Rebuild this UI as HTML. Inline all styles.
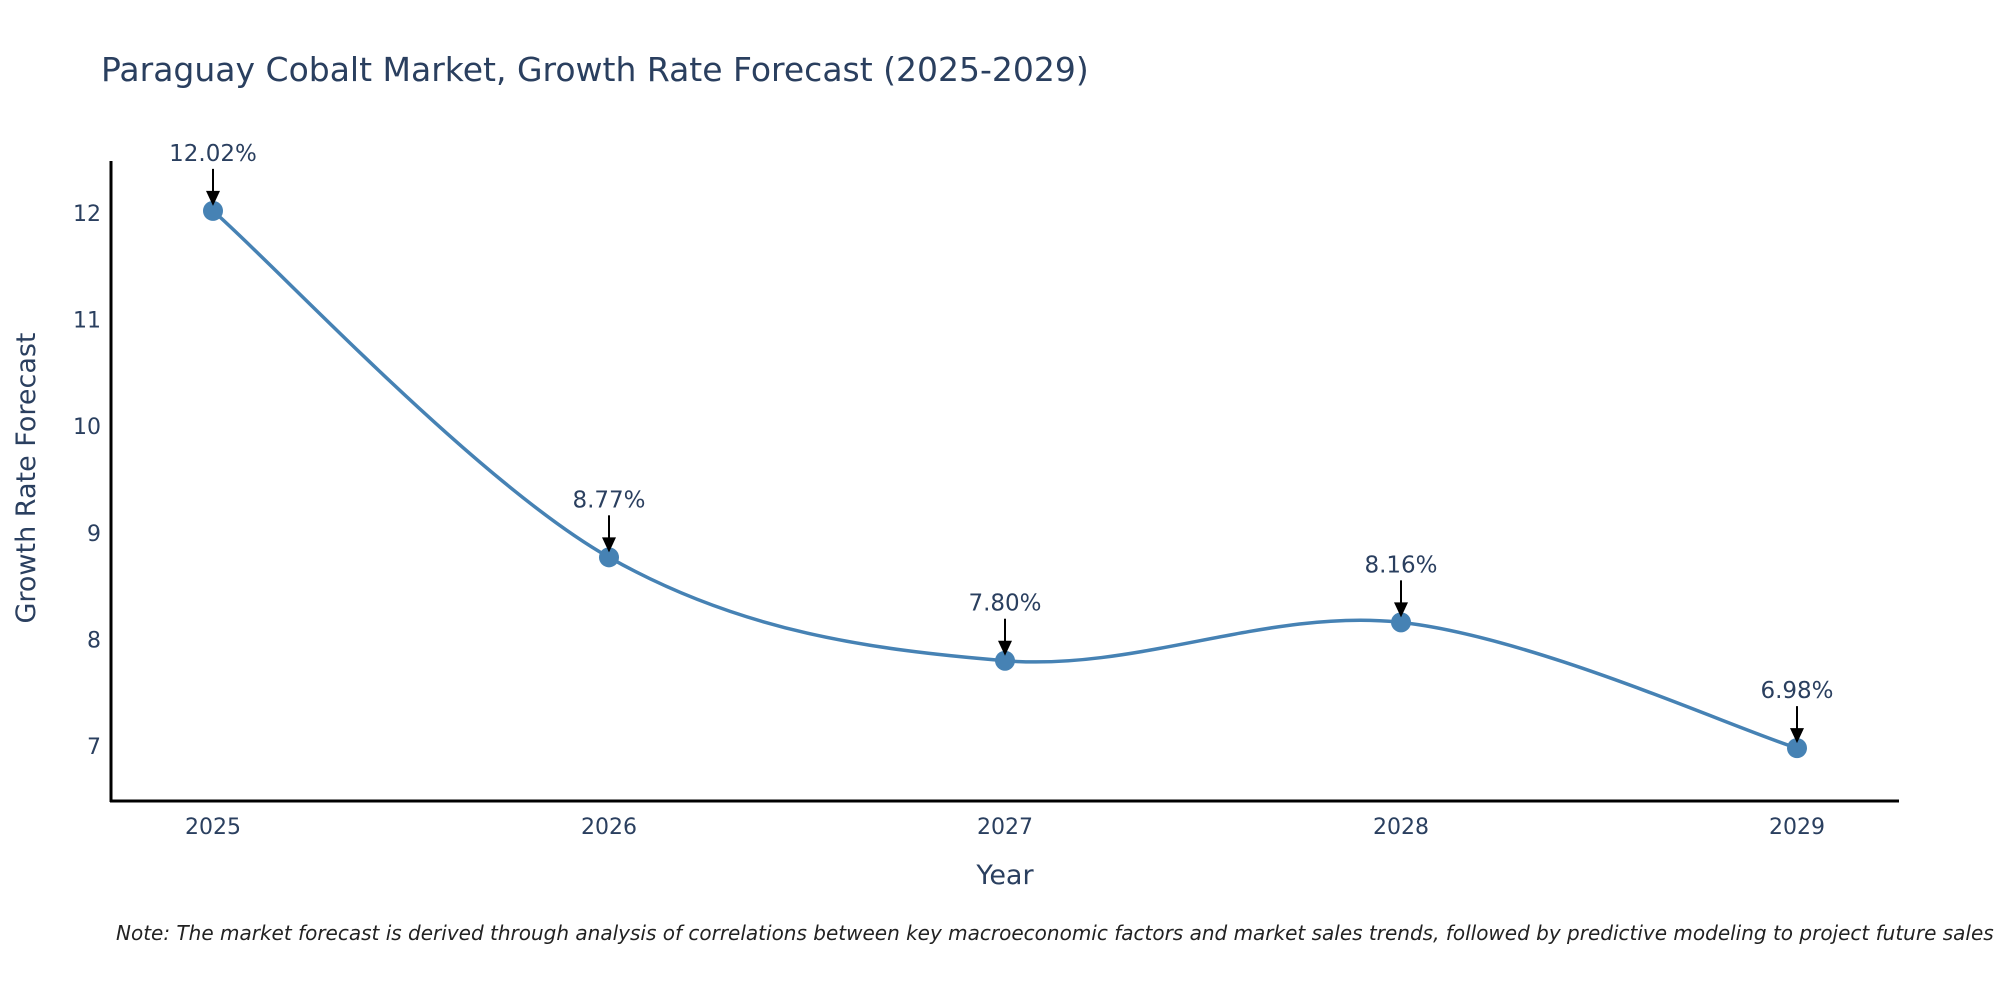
<!DOCTYPE html>
<html><head><meta charset="utf-8"><style>
body{margin:0;background:#fff;}
svg{display:block;font-family:"DejaVu Sans","Liberation Sans",sans-serif;}
</style></head><body>
<svg id="chart" width="2000" height="1000" viewBox="0 0 2000 1000">
<text x="101" y="81" font-size="33" fill="#2a3f5f">Paraguay Cobalt Market, Growth Rate Forecast (2025-2029)</text>
<g id="axes"></g>
<g id="series"></g>
<g id="annots"></g>
<text x="1005" y="884" font-size="27" fill="#2a3f5f" text-anchor="middle">Year</text>
<text transform="translate(35,478) rotate(-90)" font-size="27" fill="#2a3f5f" text-anchor="middle">Growth Rate Forecast</text>
<text x="116" y="940" font-size="20" font-style="italic" fill="#222">Note: The market forecast is derived through analysis of correlations between key macroeconomic factors and market sales trends, followed by predictive modeling to project future sales</text>
</svg>
<script>
const categories=["2025","2026","2027","2028","2029"];
const values=[12.02,8.77,7.80,8.16,6.98];
const labels=["12.02%","8.77%","7.80%","8.16%","6.98%"];
const yTicks=[7,8,9,10,11,12];
const NS="http://www.w3.org/2000/svg";
function X(i){return 213+i*396;}
function Y(v){return 213+(12-v)*106.6;}
function mk(tag,attrs,parent,txt){const e=document.createElementNS(NS,tag);for(const k in attrs)e.setAttribute(k,attrs[k]);if(txt!==undefined)e.textContent=txt;parent.appendChild(e);return e;}
const axes=document.getElementById('axes'),ser=document.getElementById('series'),ann=document.getElementById('annots');
let l=mk('line',{x1:111,y1:161,x2:111,y2:802,stroke:'#000','stroke-width':3},axes);


l=mk('line',{x1:110,y1:801,x2:1899,y2:801,stroke:'#000','stroke-width':3},axes);


yTicks.forEach(t=>{const e=mk('text',{x:101,y:Y(t)+8,'font-size':22,fill:'#2a3f5f','text-anchor':'end'},axes,String(t));

});
categories.forEach((c,i)=>{const e=mk('text',{x:X(i),y:834,'font-size':22,fill:'#2a3f5f','text-anchor':'middle'},axes,c);

});
const pts=values.map((v,i)=>[X(i),Y(v)]);
let d=`M${pts[0][0]},${pts[0][1]}`;
for(let i=0;i<pts.length-1;i++){const p0=pts[Math.max(0,i-1)],p1=pts[i],p2=pts[i+1],p3=pts[Math.min(pts.length-1,i+2)];
const c1=[p1[0]+(p2[0]-p0[0])/6,p1[1]+(p2[1]-p0[1])/6],c2=[p2[0]-(p3[0]-p1[0])/6,p2[1]-(p3[1]-p1[1])/6];
d+=` C${c1[0]},${c1[1]} ${c2[0]},${c2[1]} ${p2[0]},${p2[1]}`;}
const path=mk('path',{d:d,fill:'none',stroke:'#4682b4','stroke-width':3.5},ser);


pts.forEach((p,i)=>{const c=mk('circle',{cx:p[0],cy:p[1],r:10,fill:'#4682b4'},ser);


const t=mk('text',{x:p[0],y:p[1]-50,'font-size':23,fill:'#2a3f5f','text-anchor':'middle'},ann,labels[i]);


const a=mk('line',{x1:p[0],y1:p[1]-42,x2:p[0],y2:p[1]-18,stroke:'#000','stroke-width':2},ann);


const h=mk('polygon',{points:`${p[0]-7},${p[1]-20} ${p[0]+7},${p[1]-20} ${p[0]},${p[1]-5}`,fill:'#000'},ann);

});
</script>
</body></html>
